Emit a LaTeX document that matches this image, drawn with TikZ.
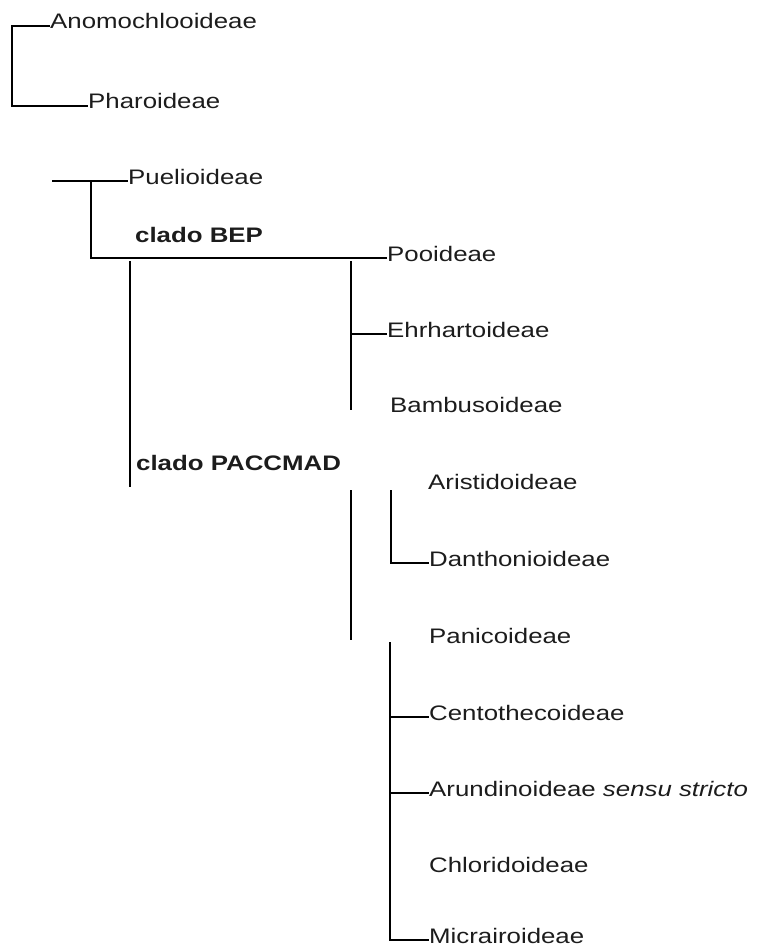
\documentclass[tikz,border=0pt]{standalone}
\usepackage{fontspec}
\usepackage{tikz}
\usetikzlibrary{calc, positioning}
\newfontfamily\taxafont[FakeStretch=1.23]{Liberation Sans}
\definecolor{textGray}{HTML}{1C1C1C}

\begin{document}
\begin{tikzpicture}[
    x=1pt, y=-1pt,
    taxon/.style={anchor=base west, inner sep=0pt, text=textGray, font=\taxafont\fontsize{21}{25}\selectfont},
    clade/.style={taxon, font=\taxafont\fontsize{21}{25}\selectfont\bfseries},
    branch/.style={line width=1.2pt, black}
]
\useasboundingbox (0,0) rectangle (757,952);

% Nodes
\node[taxon] (anomo) at (50,29) {Anomochlooideae};
\node[taxon] (pharo) at (88,109) {Pharoideae};
\node[taxon] (puelio) at (128,184) {Puelioideae};
\node[clade] (bep) at (135,242) {clado BEP};
\node[taxon] (pooid) at (387,261) {Pooideae};
\node[taxon] (ehrhart) at (387,337) {Ehrhartoideae};
\node[taxon] (bambus) at (390,412) {Bambusoideae};
\node[clade] (paccmad) at (136,470) {clado PACCMAD};
\node[taxon] (aristid) at (428,489) {Aristidoideae};
\node[taxon] (danthon) at (429,566) {Danthonioideae};
\node[taxon] (panic) at (429,643) {Panicoideae};
\node[taxon] (centoth) at (429,720) {Centothecoideae};
\node[taxon] (arundin) at (429,796) {Arundinoideae \textit{sensu stricto}};
\node[taxon] (chlorid) at (429,872) {Chloridoideae};
\node[taxon] (micrair) at (429,943) {Micrairoideae};

% Branch points
\coordinate (rootA) at (12,26);
\coordinate (stemB) at (52,181);
\coordinate (joinB) at (91,181);
\coordinate (bepTop) at (351,261);
\coordinate (bepBot) at (351,410);
\coordinate (paccTop) at (130,261);
\coordinate (paccBot) at (130,487);
\coordinate (paccMidTop) at (351,490);
\coordinate (paccMidBot) at (351,640);
\coordinate (aristTop) at (391,490);
\coordinate (panicTop) at (390,642);
\foreach \t in {anomo, pharo, puelio, pooid, ehrhart, danthon, centoth, arundin, micrair}
    \coordinate (\t Tip) at ([yshift=3pt]\t.base west);

% Edges
\draw[branch] (anomoTip) -- (rootA) |- (pharoTip);
\draw[branch] (stemB) -- (puelioTip);
\draw[branch] (joinB) |- (pooidTip);
\draw[branch] (paccTop) -- (paccBot);
\draw[branch] (bepTop) -- (bepBot);
\draw[branch] (bepTop |- ehrhartTip) -- (ehrhartTip);
\draw[branch] (paccMidTop) -- (paccMidBot);
\draw[branch] (aristTop) |- (danthonTip);
\draw[branch] (panicTop) |- (micrairTip);
\draw[branch] (panicTop |- centothTip) -- (centothTip);
\draw[branch] (panicTop |- arundinTip) -- (arundinTip);

\end{tikzpicture}
\end{document}
